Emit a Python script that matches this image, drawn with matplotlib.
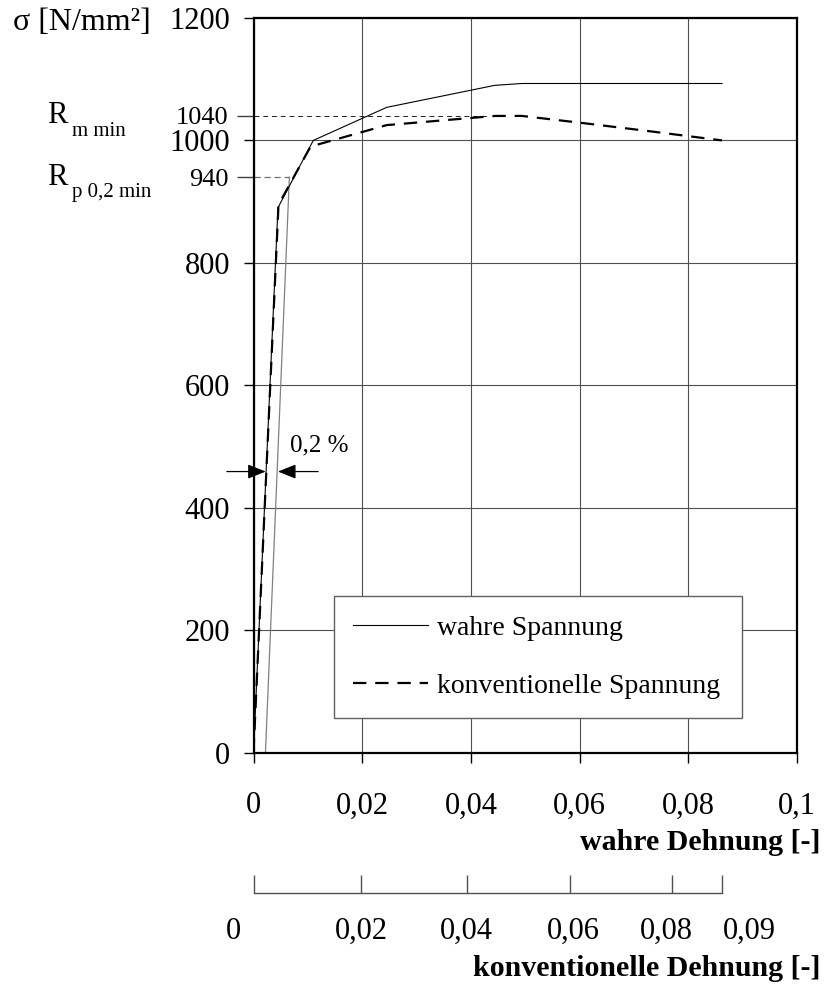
import numpy as np
import matplotlib
matplotlib.use("Agg")
import matplotlib.pyplot as plt
import matplotlib.transforms as mtransforms

plt.rcParams['font.family'] = ['Liberation Serif', 'DejaVu Serif']

# ---- data ----
true_strain = [0.0, 0.0045, 0.011, 0.0245, 0.0444, 0.0494, 0.0862]
true_stress = [0, 890, 1000, 1054, 1090, 1093, 1093]

conv_strain = [0.0, 0.0046, 0.0105, 0.0245, 0.0444, 0.0494, 0.060, 0.072, 0.0862]
conv_stress = [0, 895, 990, 1025, 1040, 1040, 1029, 1016, 1000]

offset_strain = [0.0022, 0.0066]     # 0.2 % offset line
offset_stress = [0, 940]

rm_min = 1040
rp02_min = 940
rm_strain_end = 0.0430
rp_strain_end = 0.0066

x_ticks = [0, 0.02, 0.04, 0.06, 0.08, 0.1]
x_ticklabels = ["0", "0,02", "0,04", "0,06", "0,08", "0,1"]
y_ticks = [0, 200, 400, 600, 800, 1000, 1200]
y_ticklabels = ["0", "200", "400", "600", "800", "1000", "1200"]
conv_ticks = [0, 0.02, 0.04, 0.06, 0.08, 0.09]
conv_ticklabels = ["0", "0,02", "0,04", "0,06", "0,08", "0,09"]

# ---- figure ----
fig = plt.figure(figsize=(8.3, 9.9), dpi=100)
W, H = 830, 990
ax = fig.add_axes([253.5 / W, 1 - 752.5 / H, (797 - 253.5) / W, (752.5 - 18) / H])

ax.set_xlim(0, 0.1)
ax.set_ylim(0, 1200)

ax.grid(True, which='major', color='#505050', lw=0.8)
ax.set_axisbelow(True)
for s in ax.spines.values():
    s.set_color('black')
    s.set_linewidth(1.6)

ax.set_xticks(x_ticks, labels=x_ticklabels)
ax.set_yticks(y_ticks, labels=y_ticklabels)
ax.set_yticks([rp02_min, rm_min], labels=[str(rp02_min), str(rm_min)], minor=True)
ax.xaxis.set_minor_locator(matplotlib.ticker.NullLocator())
ax.tick_params(axis='x', which='major', direction='out', length=7, width=1, pad=21, labelsize=22)
ax.tick_params(axis='y', which='major', direction='out', length=7, width=1, pad=10, labelsize=22)
ax.tick_params(axis='y', which='minor', direction='out', length=12, width=1, color='#404040',
               pad=6, labelsize=19)

# guide lines
ax.plot([0, rm_strain_end], [rm_min, rm_min], color='#202020', lw=0.7, dashes=(5, 4))
ax.plot([0, rp_strain_end], [rp02_min, rp02_min], color='#707070', lw=0.9, dashes=(5, 3))

# curves
ax.plot(offset_strain, offset_stress, color='#808080', lw=0.9)
ax.plot(true_strain, true_stress, color='black', lw=0.8, label='wahre Spannung')
ax.plot(conv_strain, conv_stress, color='black', lw=1.6, dashes=(6, 4),
        label='konventionelle Spannung')

leg = ax.legend(loc='lower left', bbox_to_anchor=(0.148, 0.047, 0.751, 0.165), mode='expand',
                fontsize=20, frameon=True, fancybox=False, framealpha=1, edgecolor='#606060',
                handlelength=2.7, handletextpad=0.3, labelspacing=1.17, borderpad=0.7,
                borderaxespad=0)
leg.get_frame().set_linewidth(1)

# 0,2 % arrows
ax.annotate('', xy=(0.00225, 459), xytext=(-0.0049, 459), annotation_clip=False,
            arrowprops=dict(arrowstyle='-|>,head_length=0.55,head_width=0.22', color='black',
                            lw=0.9, shrinkA=0, shrinkB=0, mutation_scale=20))
ax.annotate('', xy=(0.0045, 459), xytext=(0.0119, 459), annotation_clip=False,
            arrowprops=dict(arrowstyle='-|>,head_length=0.55,head_width=0.22', color='black',
                            lw=0.9, shrinkA=0, shrinkB=0, mutation_scale=20))
ax.text(0.0067, 502, '0,2 %', fontsize=18, ha='left', va='center')

# R labels on the left
tr = mtransforms.blended_transform_factory(fig.transFigure, ax.transData)
r1 = ax.text(47 / W, rm_min, 'R', transform=tr, fontsize=22, ha='left', va='center')
ax.annotate('m min', xy=(1, 0), xycoords=r1, xytext=(3, -4), textcoords='offset points',
            fontsize=15, ha='left', va='baseline')
r2 = ax.text(47 / W, rp02_min, 'R', transform=tr, fontsize=22, ha='left', va='center')
ax.annotate('p 0,2 min', xy=(1, 0), xycoords=r2, xytext=(3, -4), textcoords='offset points',
            fontsize=15, ha='left', va='baseline')

fig.text(13 / W, 1 - 22 / H, 'σ [N/mm²]', fontsize=23, ha='left', va='center')

label_x = (820 - 253.5) / (797 - 253.5)
ax.set_xlabel('wahre Dehnung [-]', loc='right', fontsize=21.5, fontweight='bold', labelpad=6)
ax.xaxis.label.set_x(label_x)

# secondary (conventional strain) axis: true = ln(1 + conventional)
sec = ax.secondary_xaxis((752.5 - 893) / (752.5 - 18), functions=(np.expm1, np.log1p))
sec.set_xticks(conv_ticks, labels=conv_ticklabels)
sec.tick_params(axis='x', direction='in', length=13, width=1, color='#505050', pad=17, labelsize=22)
sec.spines['bottom'].set_color('#505050')
sec.spines['bottom'].set_linewidth(1)
sec.spines['bottom'].set_bounds(0, 0.09)
sec.set_xlabel('konventionelle Dehnung [-]', loc='right', fontsize=21.5, fontweight='bold',
               labelpad=7)
sec.xaxis.label.set_x(label_x)

# the end labels of the conventional scale sit a little off their ticks
label_shift_px = [-20, 0, 0, 3, -5, 27]
for tick, dx in zip(sec.xaxis.get_major_ticks(len(conv_ticks)), label_shift_px):
    tick.label1.set_transform(tick.label1.get_transform()
                              + mtransforms.ScaledTranslation(dx / 100, 0, fig.dpi_scale_trans))

fig.savefig('out.png', dpi=100)
